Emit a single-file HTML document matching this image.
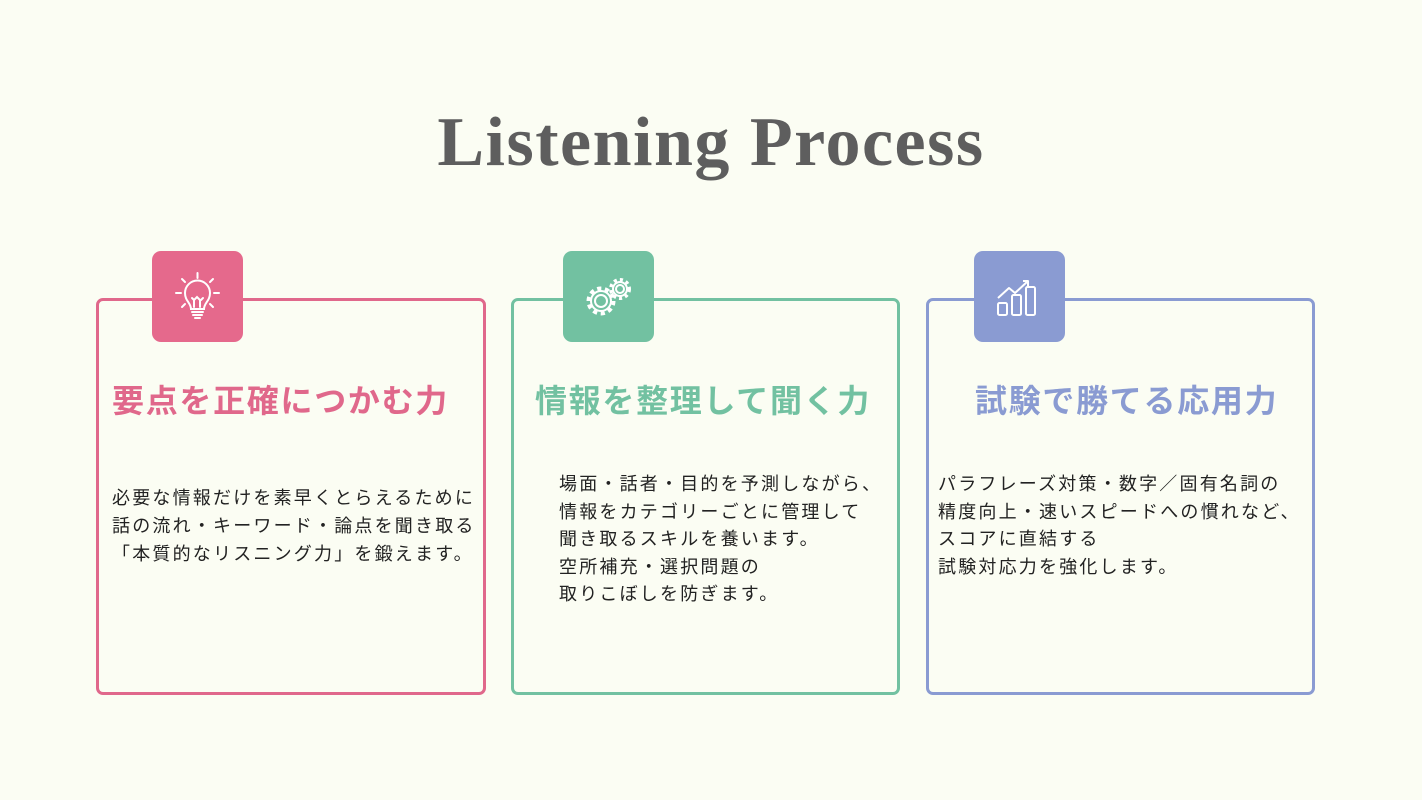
<!DOCTYPE html>
<html><head><meta charset="utf-8"><style>
body{margin:0;width:1422px;height:800px;background:#fbfdf3;position:relative;overflow:hidden;font-family:"Liberation Sans","Noto Sans CJK JP",sans-serif}
.t{position:absolute;left:0;width:1422px;top:98px;text-align:center;font-family:"Liberation Serif",serif;font-weight:bold;font-size:70px;letter-spacing:1.5px;color:#5e5e5e;line-height:90px}
.box{position:absolute;top:298px;width:383px;height:391px;border:3px solid;border-radius:7px;box-sizing:content-box}
.ic{position:absolute;top:251px;width:91px;height:91px;border-radius:9px}
.ic svg{position:absolute;left:0;top:0}
.h{position:absolute;top:378px;font-size:32px;font-weight:bold;line-height:42px;letter-spacing:1.7px;white-space:nowrap;font-family:"Noto Sans CJK JP",sans-serif}
.p{position:absolute;font-size:18px;letter-spacing:2.2px;color:#222;white-space:nowrap;font-family:"Noto Sans CJK JP",sans-serif}
</style></head><body>
<div class="t">Listening Process</div>

<div class="box" style="left:96px;border-color:#e0688b;width:384px"></div>
<div class="ic" style="left:152px;background:#e5698c">
<svg width="91" height="91" viewBox="0 0 91 91" fill="none" stroke="#fff" stroke-width="2" stroke-linecap="round">
<path d="M39 58c0-6-6-8-6-16a12.5 12.5 0 0 1 25 0c0 8-6 10-6 16z"/><path d="M40 61h11M41 64h9M43 67h5"/><path d="M42 56v-7l3-3 3 3v7M40 47l2 2M51 47l-2 2"/>
<path d="M45.5 22v5M30 28l3 3M61 28l-3 3M24 42h5M62 42h5M30 56l3-3M61 56l-3-3"/></svg></div>
<div class="h" style="left:112px;color:#e0688b">要点を正確につかむ力</div>
<div class="p" style="left:112px;top:483px;line-height:28px">必要な情報だけを素早くとらえるために<br>話の流れ・キーワード・論点を聞き取る<br>「本質的なリスニング力」を鍛えます。</div>

<div class="box" style="left:511px;border-color:#72c1a1;width:383px"></div>
<div class="ic" style="left:563px;background:#72c1a1">
<svg width="91" height="91" viewBox="0 0 91 91" fill="none" stroke="#fff" stroke-width="2">
<circle cx="38" cy="50" r="6"/><circle cx="38" cy="50" r="12" stroke-dasharray="4 3.5" stroke-width="5"/><circle cx="38" cy="50" r="10"/>
<circle cx="57" cy="38" r="4"/><circle cx="57" cy="38" r="9" stroke-dasharray="3 3" stroke-width="4"/><circle cx="57" cy="38" r="7"/></svg></div>
<div class="h" style="left:535px;color:#72c1a1">情報を整理して聞く力</div>
<div class="p" style="left:559px;top:470px;line-height:27.5px">場面・話者・目的を予測しながら、<br>情報をカテゴリーごとに管理して<br>聞き取るスキルを養います。<br>空所補充・選択問題の<br>取りこぼしを防ぎます。</div>

<div class="box" style="left:926px;border-color:#8a9bd2;width:383px"></div>
<div class="ic" style="left:974px;background:#8a9bd2">
<svg width="91" height="91" viewBox="0 0 91 91" fill="none" stroke="#fff" stroke-width="2" stroke-linejoin="round">
<rect x="24" y="52" width="9" height="12" rx="1.5"/><rect x="38" y="44" width="9" height="20" rx="1.5"/><rect x="52" y="36" width="9" height="28" rx="1.5"/>
<path d="M24 47l11-10 6 5 13-12M49 30h5v5"/></svg></div>
<div class="h" style="left:975px;color:#8a9bd2">試験で勝てる応用力</div>
<div class="p" style="left:938px;top:470px;line-height:27.5px">パラフレーズ対策・数字／固有名詞の<br>精度向上・速いスピードへの慣れなど、<br>スコアに直結する<br>試験対応力を強化します。</div>
</body></html>
